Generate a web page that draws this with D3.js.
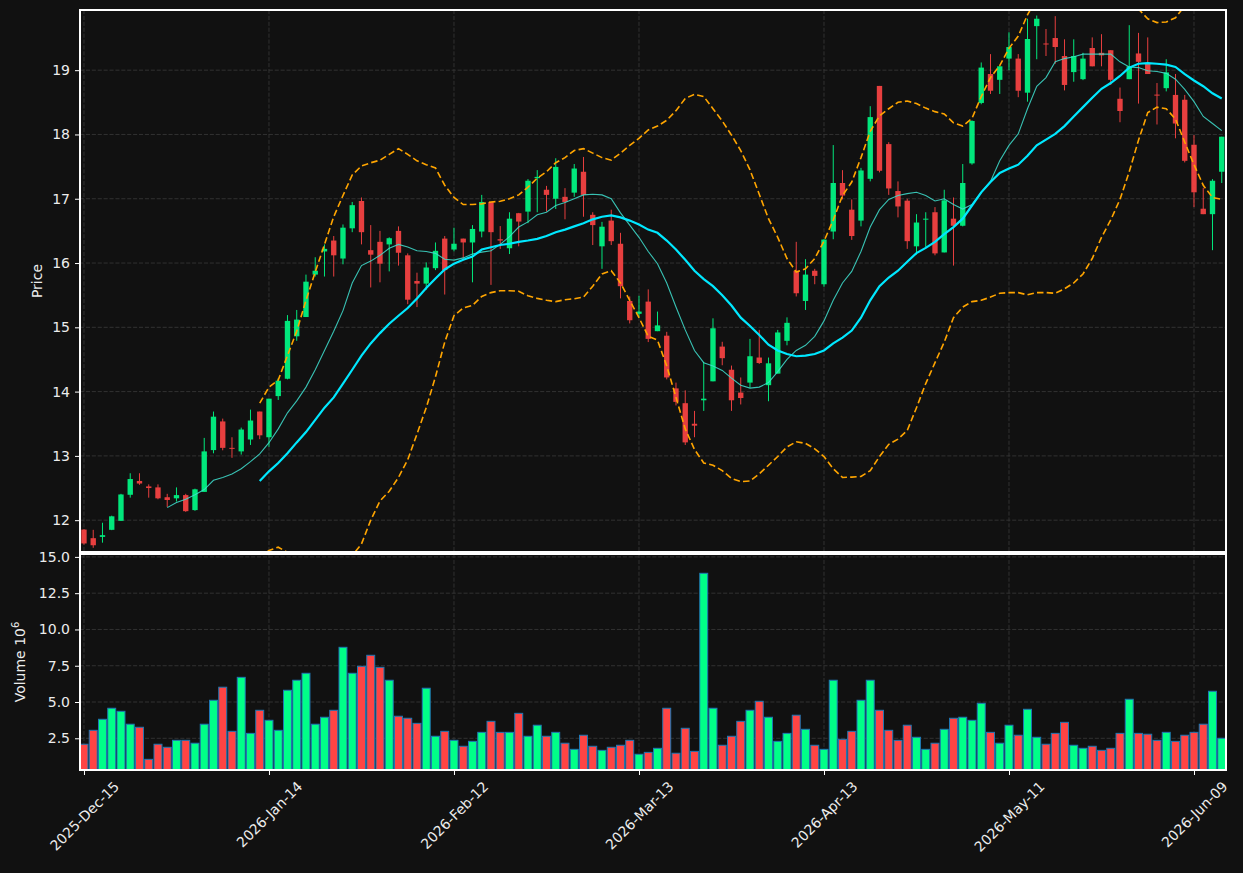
<!DOCTYPE html>
<html>
<head>
<meta charset="utf-8">
<script src="https://cdn.jsdelivr.net/npm/d3@7"></script>
<style>
  html, body { margin: 0; padding: 0; background: #111111; }
  svg { display: block; font-family: "DejaVu Sans", sans-serif; }
</style>
</head>
<body>
<div id="chart"></div>
<script>
// ── data (one entry per trading day) ──────────────────────────────────
const opens = [
  11.854, 11.72, 11.74, 11.85, 11.99, 12.395, 12.61, 12.525, 12.51, 12.357,
  12.34, 12.39, 12.157, 12.44, 13.09, 13.536, 13.125, 13.07, 13.255, 13.69,
  13.29, 13.93, 14.20, 14.86, 15.16, 15.82, 16.18, 16.35, 16.07, 16.54,
  16.965, 16.20, 16.33, 16.29, 16.50, 16.12, 15.72, 15.68, 15.92, 16.38,
  16.21, 16.38, 16.32, 16.49, 16.95, 16.37, 16.23, 16.775, 16.80, 17.32,
  17.14, 17.00, 17.03, 17.095, 17.42, 16.75, 16.26, 16.66, 16.30, 15.41,
  15.21, 15.40, 14.94, 14.87, 14.05, 13.82, 13.50, 13.865, 14.16, 14.70,
  14.34, 13.985, 14.14, 14.53, 14.10, 14.28, 14.79, 15.88, 15.41, 15.88,
  15.67, 16.49, 17.245, 16.83, 16.66, 17.31, 18.755, 17.85, 17.12, 16.97,
  16.26, 16.68, 16.79, 16.165, 16.69, 16.58, 17.55, 18.49, 18.94, 18.85,
  19.18, 19.18, 18.65, 19.685, 19.415, 19.50, 19.22, 18.97, 18.86, 19.345,
  19.27, 19.31, 18.555, 18.86, 19.26, 19.10, 18.62, 18.72, 18.615, 18.54,
  17.84, 16.845, 16.76, 17.42
]
const highs = [
  11.86, 11.85, 11.96, 12.07, 12.41, 12.73, 12.73, 12.557, 12.557, 12.41,
  12.51, 12.41, 12.49, 13.28, 13.69, 13.58, 13.29, 13.44, 13.72, 13.69,
  13.89, 14.21, 15.19, 15.27, 15.82, 16.09, 16.29, 16.42, 16.60, 16.95,
  17.02, 16.59, 16.50, 16.40, 16.57, 16.15, 15.85, 16.01, 16.32, 16.42,
  16.55, 16.38, 16.59, 17.06, 16.95, 16.575, 16.79, 16.78, 17.305, 17.445,
  17.20, 17.63, 17.165, 17.54, 17.65, 16.79, 16.64, 16.83, 16.47, 15.48,
  15.49, 15.59, 15.245, 14.93, 14.14, 14.02, 13.70, 14.46, 15.14, 14.775,
  14.405, 14.22, 14.82, 14.96, 14.53, 14.96, 15.155, 16.33, 16.06, 15.91,
  16.37, 17.835, 17.445, 16.99, 17.48, 18.44, 18.755, 17.88, 17.27, 17.00,
  16.76, 16.79, 16.87, 17.14, 17.02, 17.54, 18.22, 19.12, 19.25, 19.06,
  19.59, 19.25, 19.80, 19.85, 19.64, 19.84, 19.48, 19.48, 19.27, 19.51,
  19.56, 19.31, 18.73, 19.70, 19.58, 19.51, 18.80, 19.17, 18.94, 18.615,
  17.99, 17.17, 17.305, 17.965
]
const lows = [
  11.62, 11.57, 11.65, 11.845, 11.99, 12.35, 12.55, 12.35, 12.325, 12.205,
  12.29, 12.13, 12.146, 12.44, 13.04, 13.087, 12.97, 13.02, 13.17, 13.26,
  13.14, 13.87, 14.19, 14.79, 15.16, 15.79, 15.79, 15.79, 15.98, 16.48,
  16.29, 15.62, 15.70, 15.87, 15.96, 15.36, 15.315, 15.585, 15.89, 15.51,
  16.18, 16.05, 15.70, 16.40, 15.66, 16.22, 16.14, 16.26, 16.62, 16.79,
  16.80, 16.84, 16.68, 17.03, 16.72, 16.28, 15.91, 16.28, 15.45, 15.06,
  15.15, 14.77, 14.94, 14.19, 13.785, 13.17, 13.29, 13.70, 14.16, 14.41,
  13.70, 13.80, 14.06, 14.43, 13.85, 14.28, 14.72, 15.48, 15.27, 15.67,
  15.63, 16.37, 16.99, 16.36, 16.57, 17.27, 17.41, 17.06, 16.71, 16.22,
  16.13, 16.25, 16.12, 16.165, 15.96, 16.57, 17.53, 18.47, 18.63, 18.63,
  19.00, 18.58, 18.51, 19.17, 19.22, 19.10, 18.685, 18.82, 18.845, 19.06,
  19.06, 18.77, 18.19, 18.86, 18.48, 18.94, 18.155, 18.67, 17.94, 17.565,
  16.87, 16.76, 16.20, 17.245
]
const closes = [
  11.638, 11.61, 11.767, 12.06, 12.40, 12.64, 12.57, 12.50, 12.34, 12.314,
  12.39, 12.14, 12.48, 13.07, 13.61, 13.125, 13.11, 13.41, 13.55, 13.32,
  13.89, 14.17, 15.10, 15.12, 15.71, 15.88, 16.22, 16.12, 16.55, 16.90,
  16.48, 16.13, 15.99, 16.386, 16.16, 15.43, 15.68, 15.93, 16.19, 15.89,
  16.30, 16.32, 16.53, 16.95, 16.48, 16.35, 16.69, 16.645, 17.28, 17.34,
  17.06, 17.495, 16.95, 17.47, 17.06, 16.59, 16.565, 16.34, 15.64, 15.11,
  15.245, 14.82, 15.03, 14.22, 13.84, 13.21, 13.47, 13.89, 14.985, 14.52,
  13.865, 13.90, 14.55, 14.445, 14.44, 14.92, 15.07, 15.53, 15.82, 15.80,
  16.365, 17.245, 17.05, 16.42, 17.44, 18.27, 17.435, 17.16, 16.88, 16.34,
  16.63, 16.69, 16.15, 16.975, 16.58, 17.245, 18.21, 19.04, 18.68, 19.06,
  19.36, 18.68, 19.485, 19.80, 19.40, 19.36, 18.77, 19.22, 19.18, 19.06,
  19.23, 18.85, 18.365, 19.06, 19.13, 18.94, 18.605, 18.965, 18.17, 17.59,
  17.10, 16.76, 17.28, 17.965
]
// volume in millions
const volumes = [
  2.09, 3.05, 3.81, 4.57, 4.36, 3.47, 3.26, 1.05, 2.09, 1.88,
  2.36, 2.36, 2.16, 3.47, 5.12, 6.02, 2.98, 6.70, 2.84, 4.43,
  3.74, 3.05, 5.81, 6.50, 6.98, 3.47, 3.95, 4.43, 8.77, 6.98,
  7.46, 8.22, 7.39, 6.50, 4.02, 3.88, 3.53, 5.95, 2.64, 2.98,
  2.36, 1.95, 2.29, 2.91, 3.67, 2.91, 2.91, 4.22, 2.64, 3.40,
  2.64, 2.91, 2.16, 1.74, 2.71, 1.95, 1.67, 1.88, 2.02, 2.36,
  1.40, 1.53, 1.81, 4.57, 1.47, 3.19, 1.60, 13.87, 4.57, 2.02,
  2.64, 3.67, 4.43, 5.05, 3.95, 2.29, 2.84, 4.09, 3.12, 2.02,
  1.74, 6.50, 2.43, 2.98, 5.12, 6.50, 4.43, 3.05, 2.36, 3.40,
  2.57, 1.74, 2.16, 3.12, 3.88, 3.95, 3.74, 4.91, 2.91, 2.16,
  3.40, 2.71, 4.50, 2.57, 2.09, 2.84, 3.60, 2.02, 1.81, 1.95,
  1.67, 1.81, 2.84, 5.19, 2.84, 2.78, 2.36, 2.91, 2.29, 2.71,
  2.91, 3.47, 5.74, 2.50
]
// short moving average (thin line), starts at day 9
const maShort = [
  null, null, null, null, null, null, null, null, null, 12.195,
  12.276, 12.325, 12.395, 12.476, 12.62, 12.665, 12.72, 12.80, 12.91, 13.03,
  13.205, 13.42, 13.67, 13.855, 14.07, 14.34, 14.64, 14.94, 15.26, 15.69,
  15.96, 16.03, 16.12, 16.23, 16.29, 16.25, 16.19, 16.18, 16.15, 16.06,
  16.045, 16.08, 16.14, 16.17, 16.19, 16.29, 16.41, 16.56, 16.64, 16.75,
  16.79, 16.895, 16.94, 17.00, 17.06, 17.07, 17.06, 17.00, 16.78, 16.59,
  16.40, 16.18, 15.99, 15.69, 15.315, 14.96, 14.64, 14.45, 14.40, 14.33,
  14.21, 14.10, 14.055, 14.07, 14.14, 14.31, 14.50, 14.64, 14.72, 14.86,
  15.10, 15.42, 15.69, 15.87, 16.18, 16.56, 16.83, 16.99, 17.05, 17.08,
  17.10, 17.05, 16.965, 17.00, 16.91, 16.84, 16.91, 17.10, 17.27, 17.59,
  17.83, 18.01, 18.40, 18.75, 18.885, 19.13, 19.18, 19.21, 19.25, 19.25,
  19.25, 19.25, 19.13, 19.05, 19.04, 18.99, 18.98, 18.95, 18.86, 18.70,
  18.51, 18.28, 18.17, 18.06
]
// long moving average (thick line), starts at day 19
const maLong = [
  null, null, null, null, null, null, null, null, null, null,
  null, null, null, null, null, null, null, null, null, 12.61,
  12.76, 12.89, 13.04, 13.21, 13.37, 13.56, 13.75, 13.91, 14.125, 14.34,
  14.56, 14.75, 14.91, 15.055, 15.18, 15.30, 15.45, 15.61, 15.76, 15.90,
  15.99, 16.05, 16.10, 16.21, 16.245, 16.28, 16.30, 16.33, 16.35, 16.375,
  16.42, 16.48, 16.52, 16.57, 16.62, 16.68, 16.72, 16.74, 16.71, 16.66,
  16.60, 16.52, 16.47, 16.35, 16.21, 16.05, 15.88, 15.75, 15.64, 15.50,
  15.34, 15.15, 15.02, 14.88, 14.73, 14.64, 14.585, 14.55, 14.56, 14.585,
  14.64, 14.75, 14.84, 14.95, 15.15, 15.42, 15.64, 15.775, 15.88, 16.02,
  16.155, 16.235, 16.33, 16.45, 16.56, 16.69, 16.895, 17.10, 17.26, 17.40,
  17.47, 17.53, 17.67, 17.83, 17.92, 18.01, 18.13, 18.28, 18.425, 18.57,
  18.71, 18.80, 18.91, 19.04, 19.10, 19.11, 19.10, 19.085, 19.05, 18.94,
  18.84, 18.75, 18.64, 18.56
]
const bandUpper = [
  null, null, null, null, null, null, null, null, null, null,
  null, null, null, null, null, null, null, null, null, 13.82,
  14.07, 14.18, 14.56, 14.94, 15.42, 15.86, 16.29, 16.72, 17.05, 17.37,
  17.51, 17.56, 17.60, 17.69, 17.78, 17.69, 17.59, 17.53, 17.48, 17.21,
  17.02, 16.91, 16.91, 16.92, 16.95, 16.96, 17.00, 17.06, 17.18, 17.32,
  17.42, 17.56, 17.64, 17.75, 17.78, 17.71, 17.64, 17.60, 17.71, 17.83,
  17.94, 18.07, 18.13, 18.22, 18.37, 18.56, 18.625, 18.59, 18.40, 18.21,
  17.99, 17.75, 17.45, 17.07, 16.69, 16.40, 16.07, 15.86, 15.91, 16.07,
  16.34, 16.67, 17.05, 17.26, 17.64, 18.05, 18.29, 18.40, 18.50, 18.52,
  18.48, 18.41, 18.355, 18.32, 18.18, 18.13, 18.25, 18.59, 18.885, 19.07,
  19.34, 19.53, 19.86, 20.12, 20.30, 20.49, 20.66, 20.87, 21.02, 21.07,
  21.02, 20.93, 20.83, 20.40, 19.95, 19.80, 19.74, 19.75, 19.815, 20.00,
  20.15, 20.29, 20.26, 20.13
]
const bandLower = [
  null, null, null, null, null, null, null, null, null, null,
  null, null, null, null, null, null, null, null, null, 11.42,
  11.53, 11.58, 11.50, 11.45, 11.32, 11.26, 11.21, 11.15, 11.25, 11.45,
  11.63, 12.00, 12.30, 12.45, 12.665, 12.94, 13.34, 13.75, 14.23, 14.77,
  15.18, 15.30, 15.34, 15.48, 15.54, 15.57, 15.57, 15.56, 15.49, 15.45,
  15.42, 15.40, 15.43, 15.445, 15.47, 15.64, 15.83, 15.88, 15.69, 15.42,
  15.15, 14.86, 14.80, 14.40, 13.91, 13.42, 13.10, 12.89, 12.855, 12.77,
  12.65, 12.60, 12.61, 12.72, 12.855, 12.99, 13.14, 13.22, 13.195, 13.11,
  12.99, 12.80, 12.665, 12.67, 12.68, 12.77, 12.99, 13.18, 13.26, 13.395,
  13.75, 14.125, 14.45, 14.77, 15.15, 15.315, 15.40, 15.42, 15.47, 15.53,
  15.54, 15.54, 15.505, 15.54, 15.54, 15.53, 15.60, 15.69, 15.83, 16.07,
  16.40, 16.67, 16.99, 17.42, 17.91, 18.34, 18.425, 18.40, 18.24, 17.88,
  17.53, 17.21, 17.02, 16.99
]
const tickDays   = [0, 20, 40, 60, 80, 100, 120]
const tickLabels = ['2025-Dec-15', '2026-Jan-14', '2026-Feb-12', '2026-Mar-13',
                    '2026-Apr-13', '2026-May-11', '2026-Jun-09']
const priceTicks  = [12, 13, 14, 15, 16, 17, 18, 19]
const volumeTicks = [2.5, 5.0, 7.5, 10.0, 12.5, 15.0]

// ── layout / style ───────────────────────────────────────────────────
const WIDTH = 1243, HEIGHT = 873
const PLOT = { left: 80, right: 1226 }
const PRICE_Y  = { top: 10,  bottom: 552 }
const VOLUME_Y = { top: 554, bottom: 770 }

const BG       = '#111111'
const UP       = '#00ff88'
const DOWN     = '#ff4444'
const TEXT     = '#ececec'
const GRID     = '#363636'
const SPINE    = '#ffffff'

const svg = d3.select('#chart').append('svg')
  .attr('width', WIDTH)
  .attr('height', HEIGHT)
  .style('background', BG)

const days = d3.range(closes.length)

const x  = d3.scaleLinear().domain([-0.43, 123.46]).range([PLOT.left, PLOT.right])
const yP = d3.scaleLinear().domain([11.505, 19.936]).range([PRICE_Y.bottom, PRICE_Y.top])
const yV = d3.scaleLinear().domain([0.315, 15.2]).range([VOLUME_Y.bottom, VOLUME_Y.top])
const step = x(1) - x(0)

const defs = svg.append('defs')
defs.append('clipPath').attr('id', 'clip-price')
  .append('rect')
  .attr('x', PLOT.left).attr('y', PRICE_Y.top)
  .attr('width', PLOT.right - PLOT.left).attr('height', PRICE_Y.bottom - PRICE_Y.top)
defs.append('clipPath').attr('id', 'clip-volume')
  .append('rect')
  .attr('x', PLOT.left).attr('y', VOLUME_Y.top)
  .attr('width', PLOT.right - PLOT.left).attr('height', VOLUME_Y.bottom - VOLUME_Y.top)

// ── grids ────────────────────────────────────────────────────────────
const gGrid = svg.append('g').attr('class', 'grid')
  .attr('stroke', GRID).attr('stroke-width', 0.9).attr('stroke-dasharray', '4.1,1.8')

gGrid.selectAll('line.hp').data(priceTicks).join('line')
  .attr('class', 'hp')
  .attr('x1', PLOT.left).attr('x2', PLOT.right)
  .attr('y1', d => yP(d)).attr('y2', d => yP(d))
gGrid.selectAll('line.hv').data(volumeTicks).join('line')
  .attr('class', 'hv')
  .attr('x1', PLOT.left).attr('x2', PLOT.right)
  .attr('y1', d => yV(d)).attr('y2', d => yV(d))
gGrid.selectAll('line.vp').data(tickDays).join('line')
  .attr('class', 'vp')
  .attr('x1', d => x(d)).attr('x2', d => x(d))
  .attr('y1', PRICE_Y.top).attr('y2', PRICE_Y.bottom)
gGrid.selectAll('line.vv').data(tickDays).join('line')
  .attr('class', 'vv')
  .attr('x1', d => x(d)).attr('x2', d => x(d))
  .attr('y1', VOLUME_Y.top).attr('y2', VOLUME_Y.bottom)

// ── candles ──────────────────────────────────────────────────────────
const gCandles = svg.append('g').attr('class', 'candles')
  .attr('clip-path', 'url(#clip-price)')
  .attr('opacity', 0.9)

const candle = gCandles.selectAll('g').data(days).join('g')
candle.append('line')
  .attr('x1', i => x(i)).attr('x2', i => x(i))
  .attr('y1', i => yP(highs[i])).attr('y2', i => yP(lows[i]))
  .attr('stroke', i => closes[i] >= opens[i] ? UP : DOWN)
  .attr('stroke-width', 1)
const bodyW = step * 0.58
candle.append('rect')
  .attr('x', i => x(i) - bodyW / 2)
  .attr('width', bodyW)
  .attr('y', i => yP(Math.max(opens[i], closes[i])))
  .attr('height', i => Math.max(1, Math.abs(yP(opens[i]) - yP(closes[i]))))
  .attr('fill', i => closes[i] >= opens[i] ? UP : DOWN)

// ── moving averages and bands ────────────────────────────────────────
const line = arr => d3.line()
  .defined(i => arr[i] != null)
  .x(i => x(i))
  .y(i => yP(arr[i]))(days)

const gLines = svg.append('g').attr('class', 'lines')
  .attr('clip-path', 'url(#clip-price)')
  .attr('fill', 'none')

gLines.append('path').attr('d', line(maShort))
  .attr('stroke', '#40e0d0').attr('stroke-width', 1.1).attr('opacity', 0.85)
gLines.append('path').attr('d', line(maLong))
  .attr('stroke', '#00e8ff').attr('stroke-width', 2.2)
;[bandUpper, bandLower].forEach(arr => {
  gLines.append('path').attr('d', line(arr))
    .attr('stroke', '#ffa500').attr('stroke-width', 1.6)
    .attr('stroke-dasharray', '6.5,3.2')
})

// ── volume ───────────────────────────────────────────────────────────
const volW = step * 0.86
svg.append('g').attr('class', 'volume')
  .attr('clip-path', 'url(#clip-volume)')
  .selectAll('rect').data(days).join('rect')
  .attr('x', i => x(i) - volW / 2)
  .attr('width', volW)
  .attr('y', i => yV(volumes[i]))
  .attr('height', i => yV(0) - yV(volumes[i]))
  .attr('fill', i => closes[i] >= opens[i] ? UP : DOWN)
  .attr('stroke', '#1f77b4')
  .attr('stroke-width', 1)

// ── frames ───────────────────────────────────────────────────────────
const gFrame = svg.append('g').attr('fill', 'none').attr('stroke', SPINE)
  .attr('stroke-width', 1.2).attr('shape-rendering', 'crispEdges')
gFrame.append('rect')
  .attr('x', PLOT.left).attr('y', PRICE_Y.top)
  .attr('width', PLOT.right - PLOT.left).attr('height', PRICE_Y.bottom - PRICE_Y.top)
gFrame.append('rect')
  .attr('x', PLOT.left).attr('y', VOLUME_Y.top)
  .attr('width', PLOT.right - PLOT.left).attr('height', VOLUME_Y.bottom - VOLUME_Y.top)

// ── axes ─────────────────────────────────────────────────────────────
function styleAxis(g) {
  g.select('.domain').remove()
  g.selectAll('.tick line').attr('stroke', SPINE)
  g.selectAll('.tick text').attr('fill', TEXT).style('font-size', '14px')
    .style('font-family', '"DejaVu Sans", sans-serif')
}

svg.append('g')
  .attr('transform', `translate(${PLOT.left},0)`)
  .call(d3.axisLeft(yP).tickValues(priceTicks).tickFormat(d3.format('d')).tickSize(5).tickPadding(5))
  .call(styleAxis)

svg.append('g')
  .attr('transform', `translate(${PLOT.left},0)`)
  .call(d3.axisLeft(yV).tickValues(volumeTicks).tickFormat(d3.format('.1f')).tickSize(5).tickPadding(5))
  .call(styleAxis)

const gX = svg.append('g')
  .attr('transform', `translate(0,${VOLUME_Y.bottom})`)
  .call(d3.axisBottom(x).tickValues(tickDays).tickFormat((d, i) => tickLabels[i]).tickSize(5).tickPadding(5))
  .call(styleAxis)

gX.selectAll('.tick text').each(function () {
  const w = this.getComputedTextLength()
  const ext = (w + 14) * Math.SQRT1_2
  d3.select(this)
    .attr('y', null).attr('x', 0).attr('dy', '0.35em')
    .attr('text-anchor', 'middle')
    .attr('transform', `translate(0,${9 + ext / 2}) rotate(-45)`)
})

// ── axis labels ──────────────────────────────────────────────────────
svg.append('text')
  .attr('transform', `translate(42,${(PRICE_Y.top + PRICE_Y.bottom) / 2}) rotate(-90)`)
  .attr('text-anchor', 'middle')
  .attr('fill', TEXT).style('font-size', '14px')
  .text('Price')

const vLabel = svg.append('text')
  .attr('transform', `translate(25,${(VOLUME_Y.top + VOLUME_Y.bottom) / 2}) rotate(-90)`)
  .attr('text-anchor', 'middle')
  .attr('fill', TEXT).style('font-size', '14px')
vLabel.append('tspan').text('Volume  10')
vLabel.append('tspan').attr('dy', -6).style('font-size', '10px').text('6')
</script>
</body>
</html>
